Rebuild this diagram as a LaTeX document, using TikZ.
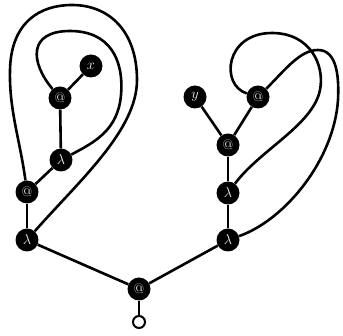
\documentclass[tikz,border=0pt]{standalone}
\usepackage{amsmath}
\usepackage{tikz}
\usetikzlibrary{arrows.meta,positioning,backgrounds}
\definecolor{ink}{HTML}{000000}
\definecolor{label}{HTML}{F2F2F2}

\begin{document}
\begin{tikzpicture}[
x=1pt,y=-1pt,
every node/.style={font=\fontsize{14}{14}\selectfont,text=label,inner sep=0pt},
dot/.style={circle,fill=ink,minimum size=23pt},
app/.style={dot},
lam/.style={dot},
vnode/.style={dot},
root/.style={circle,draw=ink,fill=white,line width=2pt,minimum size=12pt},
wire/.style={line width=2.6pt,draw=ink}
]
\useasboundingbox (0,0) rectangle (343,336);
% left branch
\node[vnode] (x) at (91,66) {$x$};
\node[app] (tl) at (60,98) {@};
\node[lam] (lu) at (61,160) {$\lambda$};
\node[app] (ll) at (27,192) {@};
\node[lam] (lb) at (27,240) {$\lambda$};
% right branch
\node[vnode] (y) at (195,97) {$y$};
\node[app] (rt) at (258,97) {@};
\node[app] (rm) at (228,145) {@};
\node[lam] (ru) at (228,193) {$\lambda$};
\node[lam] (rb) at (228,240) {$\lambda$};
% root
\node[app] (b) at (139,289) {@};
\node[root] (o) at (139,322) {};
\begin{scope}[on background layer]
\draw[wire] (tl)--(x); \draw[wire] (tl)--(lu); \draw[wire] (lu)--(ll);
\draw[wire] (ll)--(lb); \draw[wire] (lb)--(b); \draw[wire] (b)--(o);
\draw[wire] (b)--(rb); \draw[wire] (rb)--(ru); \draw[wire] (ru)--(rm);
\draw[wire] (rm)--(y); \draw[wire] (rm)--(rt);
% bound variable loops
\draw[wire] (tl) .. controls (30,62) and (28,31) .. (70,31)
  .. controls (110,31) and (124,60) .. (121,95)
  .. controls (118,130) and (95,142) .. (lu);
\draw[wire] (ll) .. controls (20,140) and (9,110) .. (10,70)
  .. controls (11,22) and (40,5) .. (72,5)
  .. controls (110,5) and (137,32) .. (137,80)
  .. controls (137,130) and (80,180) .. (lb);
\draw[wire] (rt) .. controls (220,85) and (225,33) .. (272,33)
  .. controls (310,33) and (325,65) .. (320,90)
  .. controls (313,125) and (260,150) .. (ru);
\draw[wire] (rt) .. controls (285,70) and (300,50) .. (318,50)
  .. controls (338,50) and (339,80) .. (338,100)
  .. controls (334,160) and (285,220) .. (rb);
\end{scope}
\end{tikzpicture}
\end{document}
